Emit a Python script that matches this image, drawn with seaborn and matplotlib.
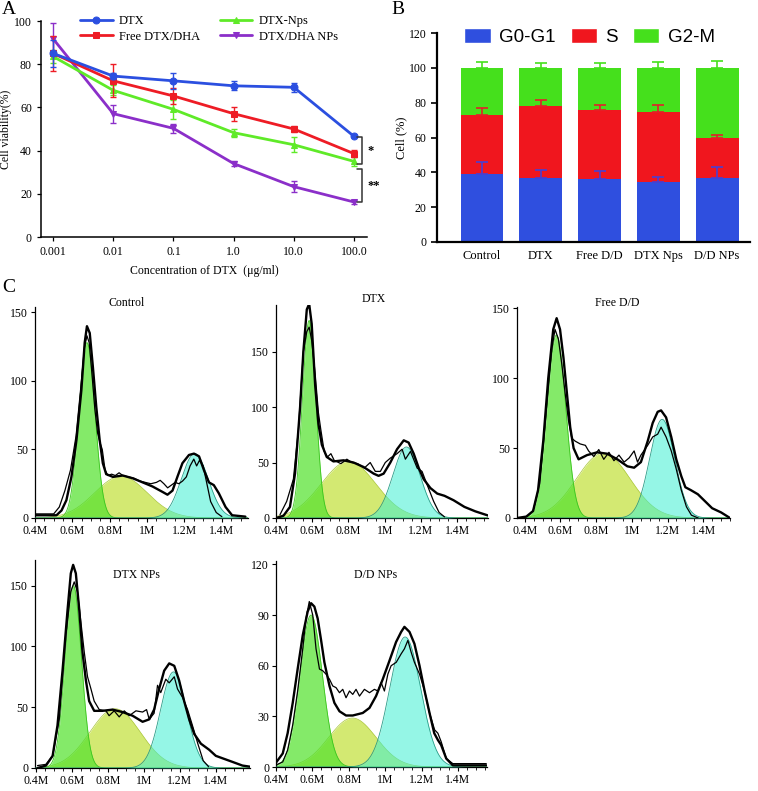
import numpy as np
import pandas as pd
import matplotlib
matplotlib.use("Agg")
import matplotlib.pyplot as plt
import matplotlib.patches as mpatches
from matplotlib.transforms import blended_transform_factory
import seaborn as sns

# ---------------- Panel A data ----------------
conc = [0.001, 0.01, 0.1, 1.0, 10.0, 100.0]
conc_labels = ["0.001", "0.01", "0.1", "1.0", "10.0", "100.0"]
via_dtx = [85, 74.5, 72.3, 70, 69.3, 46.6]
err_dtx = [6.3, 1.5, 3.6, 2, 2, 0.5]
via_free = [85, 72.3, 65.3, 57.1, 50, 38.6]
err_free = [8, 7.6, 3.9, 3.2, 1.5, 1.5]
via_nps = [83.6, 67.9, 59.1, 48.3, 42.7, 35]
err_nps = [3, 2.3, 4.5, 1.8, 3.5, 2]
via_dd = [91.8, 57.1, 50.3, 34, 23.3, 16.2]
err_dd = [7.5, 4.2, 2.1, 1, 2.4, 1]
sig_brackets = [(46.4, 33.6, "*"), (31.3, 16.2, "**")]

# ---------------- Panel B data ----------------
groups = ["Control", "DTX", "Free D/D", "DTX Nps", "D/D NPs"]
g0g1 = [38.9, 36.7, 36.0, 34.3, 37.0]
s_phase = [33.8, 41.2, 39.6, 40.3, 22.9]
g2m = [27.3, 22.1, 24.4, 25.4, 40.1]
err_g0 = [7.0, 4.8, 4.8, 3.0, 6.0]
err_s = [4.3, 3.8, 3.3, 3.9, 1.7]
err_g2 = [3.5, 2.8, 2.8, 3.5, 4.2]

# ---------------- Panel C data (x in millions) ----------------
# components: G1, S, G2 -> centre, height, width
ctrl_c = [0.678, 0.86, 1.255]; ctrl_h = [128, 30.5, 47]; ctrl_w = [0.043, 0.14, 0.072]
ctrl_sx = [0.40, 0.515, 0.542, 0.568, 0.595, 0.622, 0.648, 0.666, 0.678, 0.693, 0.71, 0.728, 0.746, 0.763, 0.781,
           0.817, 0.87, 0.923, 0.976, 1.029, 1.083, 1.109, 1.136, 1.162, 1.189, 1.224, 1.251, 1.278, 1.304, 1.331,
           1.357, 1.384, 1.42, 1.455, 1.526]
ctrl_sy = [2, 2, 5.5, 13, 30, 57, 93, 128, 140, 135, 110, 81, 57, 40, 32,
           30, 31, 29, 26, 23, 19, 17, 20, 30, 40, 46, 47, 45, 35, 26,
           24, 18, 8, 2, 1]
ctrl_rx = [0.40, 0.50, 0.53, 0.56, 0.59, 0.62, 0.645, 0.665, 0.678, 0.69, 0.705, 0.72, 0.735, 0.748, 0.76, 0.775,
           0.79, 0.81, 0.83, 0.85, 0.87, 0.90, 0.93, 0.96, 0.99, 1.02, 1.05, 1.07, 1.09, 1.11, 1.13, 1.15, 1.17,
           1.19, 1.21, 1.23, 1.25, 1.265, 1.28, 1.30, 1.32, 1.34, 1.37, 1.40]
ctrl_ry = [3, 3, 8, 20, 35, 60, 95, 125, 133, 128, 105, 80, 62, 55, 50, 35,
           31, 32, 31, 33, 31, 30, 29, 27, 26, 25, 26, 27.5, 25, 22, 24, 26, 25,
           27, 30, 38, 43, 38, 42, 38, 25, 12, 4, 1]

dtx_c = [0.583, 0.80, 1.12]; dtx_h = [178, 51, 64]; dtx_w = [0.037, 0.15, 0.075]
dtx_sx = [0.40, 0.441, 0.477, 0.505, 0.533, 0.551, 0.57, 0.583, 0.597, 0.616, 0.634, 0.653, 0.68, 0.717, 0.773,
          0.828, 0.883, 0.939, 0.966, 0.994, 1.031, 1.068, 1.105, 1.132, 1.16, 1.188, 1.215, 1.252, 1.29, 1.33,
          1.38, 1.44, 1.50, 1.575]
dtx_sy = [0, 2, 10, 40, 100, 150, 188, 193, 175, 120, 85, 66, 55, 51, 52,
          50, 46, 40, 38, 40, 50, 62, 70, 68, 58, 45, 35, 27, 22, 20,
          16, 10, 6, 2]
dtx_rx = [0.422, 0.459, 0.496, 0.524, 0.551, 0.57, 0.583, 0.597, 0.616, 0.634, 0.647, 0.666, 0.684, 0.703, 0.721,
          0.758, 0.791, 0.819, 0.85, 0.887, 0.92, 0.948, 0.976, 1.003, 1.031, 1.068, 1.096, 1.114, 1.142, 1.179,
          1.206, 1.234, 1.27, 1.30, 1.33]
dtx_ry = [3, 15, 35, 80, 150, 168, 172, 160, 130, 95, 80, 60, 55, 58, 52,
          49, 53, 50, 49, 45, 50, 42, 42, 50, 54, 58, 62, 53, 60, 45,
          42, 30, 15, 5, 1]

free_c = [0.578, 0.84, 1.17]; free_h = [131, 46.4, 70.6]; free_w = [0.052, 0.15, 0.07]
free_sx = [0.357, 0.409, 0.447, 0.475, 0.504, 0.532, 0.56, 0.579, 0.598, 0.617, 0.636, 0.655, 0.674, 0.702, 0.749,
           0.806, 0.862, 0.919, 0.975, 1.013, 1.051, 1.089, 1.117, 1.145, 1.164, 1.192, 1.221, 1.249, 1.277, 1.30,
           1.33, 1.37, 1.41, 1.45, 1.50, 1.55]
free_sy = [0, 1, 5, 20, 55, 100, 135, 143, 135, 115, 90, 65, 50, 42, 45,
           47, 46, 42, 37, 36, 40, 55, 68, 76, 77, 72, 58, 42, 30, 22,
           20, 17, 12, 7, 4, 0]
free_rx = [0.447, 0.485, 0.523, 0.551, 0.57, 0.589, 0.608, 0.626, 0.645, 0.664, 0.683, 0.711, 0.74, 0.758, 0.787,
           0.815, 0.843, 0.872, 0.90, 0.928, 0.957, 0.985, 1.013, 1.032, 1.051, 1.089, 1.117, 1.145, 1.164, 1.192,
           1.221, 1.249, 1.277, 1.306, 1.334, 1.372]
free_ry = [5, 25, 80, 120, 135, 128, 110, 90, 70, 57, 55, 53, 52, 48, 44,
           49, 42, 47, 41, 45, 40, 43, 48, 40, 45, 52, 58, 60, 65, 58,
           48, 35, 20, 8, 2, 0]

nps_c = [0.608, 0.84, 1.165]; nps_h = [150, 48.7, 79]; nps_w = [0.045, 0.14, 0.072]
nps_sx = [0.409, 0.456, 0.493, 0.52, 0.548, 0.576, 0.594, 0.607, 0.622, 0.641, 0.659, 0.678, 0.696, 0.724, 0.77,
          0.826, 0.881, 0.937, 0.993, 1.03, 1.057, 1.085, 1.113, 1.141, 1.169, 1.196, 1.224, 1.252, 1.28, 1.317,
          1.363, 1.40, 1.437, 1.493, 1.548, 1.594]
nps_sy = [0, 2, 10, 35, 80, 130, 160, 167, 160, 130, 95, 72, 55, 47, 47,
          48, 46, 43, 38, 40, 48, 65, 80, 86, 84, 72, 55, 40, 28, 20,
          15, 10, 8, 5, 2, 1]
nps_rx = [0.409, 0.456, 0.493, 0.53, 0.567, 0.594, 0.613, 0.631, 0.65, 0.669, 0.687, 0.706, 0.724, 0.752, 0.789,
          0.807, 0.835, 0.863, 0.891, 0.919, 0.956, 0.993, 1.015, 1.03, 1.057, 1.076, 1.094, 1.122, 1.141, 1.169,
          1.187, 1.215, 1.243, 1.27, 1.30, 1.33, 1.36]
nps_ry = [2, 3, 10, 40, 110, 145, 153, 145, 120, 95, 75, 65, 55, 48, 47,
          43, 47, 42, 47, 43, 47, 46, 48, 40, 45, 68, 62, 73, 70, 75,
          65, 58, 48, 35, 20, 6, 1]

dd_c = [0.593, 0.82, 1.11]; dd_h = [90, 29, 77]; dd_w = [0.062, 0.13, 0.085]
dd_sx = [0.396, 0.437, 0.464, 0.492, 0.519, 0.547, 0.574, 0.593, 0.611, 0.629, 0.648, 0.666, 0.694, 0.721, 0.749,
         0.785, 0.822, 0.877, 0.914, 0.95, 0.987, 1.024, 1.06, 1.088, 1.106, 1.134, 1.161, 1.189, 1.217, 1.244,
         1.27, 1.29, 1.308, 1.336, 1.372, 1.45, 1.556]
dd_sy = [2, 8, 20, 38, 58, 78, 92, 97, 95, 88, 75, 62, 48, 38, 33,
         30.5, 30.5, 32, 35, 42, 52, 63, 74, 80, 83, 80, 73, 60, 45, 32,
         20, 16, 13, 5, 1, 1, 1]
dd_rx = [0.396, 0.437, 0.464, 0.492, 0.519, 0.547, 0.565, 0.583, 0.602, 0.62, 0.639, 0.657, 0.675, 0.694, 0.712,
         0.73, 0.749, 0.767, 0.785, 0.804, 0.822, 0.84, 0.859, 0.886, 0.914, 0.941, 0.96, 0.978, 0.996, 1.015,
         1.033, 1.061, 1.088, 1.106, 1.125, 1.143, 1.161, 1.189, 1.217, 1.244, 1.272, 1.29, 1.308, 1.336, 1.372,
         1.556]
dd_ry = [1, 3, 10, 25, 45, 70, 88, 98, 90, 70, 58, 57, 55, 52, 48,
         47, 44, 46, 41, 45, 43, 46, 42, 46, 44, 46, 45, 50, 45, 55,
         60, 62, 67, 70, 75, 68, 62, 55, 45, 32, 22, 20, 15, 5, 2,
         2]

# ---------------- Figure ----------------
sns.set_theme(style="ticks")
plt.rcParams["font.family"] = ["Liberation Serif", "DejaVu Serif"]
plt.rcParams["axes.edgecolor"] = "black"
plt.rcParams["xtick.color"] = "black"
plt.rcParams["ytick.color"] = "black"
plt.rcParams["text.color"] = "black"
plt.rcParams["axes.labelcolor"] = "black"

W, H = 758, 791
fig = plt.figure(figsize=(W / 100, H / 100), dpi=100)


def add_ax(l, t, r, b):
    return fig.add_axes([l / W, 1 - b / H, (r - l) / W, (b - t) / H])


# ---------------- Panel A ----------------
axA = add_ax(41, 21, 367, 237)
seriesA = [("DTX", via_dtx, err_dtx, "#2b4fe0", "o"),
           ("Free DTX/DHA", via_free, err_free, "#ee1c25", "s"),
           ("DTX-Nps", via_nps, err_nps, "#5fea28", "^"),
           ("DTX/DHA NPs", via_dd, err_dd, "#8b2fc9", "v")]
for name, v, e, c, m in reversed(seriesA):
    axA.errorbar(conc, v, yerr=e, fmt="none", ecolor=c, elinewidth=1.0, capsize=2.5, capthick=1.0)
    sns.lineplot(x=conc, y=v, ax=axA, color=c, marker=m, markersize=5, markeredgecolor=c,
                 linewidth=2.0, label=name, estimator=None)
axA.set_xscale("log")
axA.set_xlim(10 ** -3.2, 10 ** 2.216)
axA.set_ylim(0, 100)
axA.set_xticks(conc)
axA.set_xticklabels(conc_labels)
axA.xaxis.set_minor_locator(matplotlib.ticker.NullLocator())
axA.set_yticks([0, 20, 40, 60, 80, 100])
axA.tick_params(labelsize=8.5, length=3, width=0.9)
for sp in ["top", "right"]:
    axA.spines[sp].set_visible(False)
for sp in ["left", "bottom"]:
    axA.spines[sp].set_linewidth(1.1)
axA.set_ylabel("Cell viability(%)", fontsize=8.5)
axA.yaxis.set_label_coords(-0.088, 0.5)
axA.set_xlabel("Concentration of DTX  (\u03bcg/ml)", fontsize=8.5, labelpad=5)
h, l = axA.get_legend_handles_labels()
order = [l.index(s[0]) for s in seriesA]
axA.legend([h[i] for i in order], [l[i] for i in order], ncol=2, frameon=False, fontsize=9,
           loc="upper left", bbox_to_anchor=(80 / W, 1 - 15 / H), bbox_transform=fig.transFigure,
           borderpad=0, borderaxespad=0, handlelength=2.6, handletextpad=0.5, columnspacing=1.6,
           labelspacing=0.3)
trA = blended_transform_factory(axA.transAxes, axA.transData)
for top, bot, star in sig_brackets:
    axA.plot([0.969, 0.985, 0.985, 0.969], [top, top, bot, bot], color="#333333", lw=1.1,
             transform=trA, clip_on=False)
    axA.text(1.003, (top + bot) / 2, star, transform=trA, fontsize=9, fontweight="bold",
             ha="left", va="center")

# ---------------- Panel B ----------------
axB = add_ax(437, 33, 750, 242)
c_blue, c_red, c_green = "#2f4fdf", "#f0161e", "#45e01c"
cum_s = [a + b for a, b in zip(g0g1, s_phase)]
cum_all = [a + b for a, b in zip(cum_s, g2m)]
xs = np.arange(len(groups))
axB.errorbar(xs, cum_all, yerr=[np.zeros(len(xs)), err_g2], fmt="none", ecolor=c_green,
             elinewidth=1.2, capsize=4, capthick=1.2)
sns.barplot(x=groups, y=cum_all, color=c_green, saturation=1, width=0.73, ax=axB)
axB.errorbar(xs, cum_s, yerr=[np.zeros(len(xs)), err_s], fmt="none", ecolor="#e3202a",
             elinewidth=1.2, capsize=4, capthick=1.2, zorder=5)
sns.barplot(x=groups, y=cum_s, color=c_red, saturation=1, width=0.73, ax=axB)
axB.errorbar(xs, g0g1, yerr=[np.zeros(len(xs)), err_g0], fmt="none", ecolor="#4a3fd0",
             elinewidth=1.2, capsize=4, capthick=1.2, zorder=5)
sns.barplot(x=groups, y=g0g1, color=c_blue, saturation=1, width=0.73, ax=axB)
for p in axB.patches:
    p.set_edgecolor("none")
axB.set_xlim(-0.766, 4.56)
axB.set_ylim(0, 120)
axB.set_yticks([0, 20, 40, 60, 80, 100, 120])
axB.tick_params(axis="y", labelsize=8.5, length=4, width=1.2)
axB.tick_params(axis="x", labelsize=9, length=0, pad=6)
for sp in ["top", "right"]:
    axB.spines[sp].set_visible(False)
for sp in ["left", "bottom"]:
    axB.spines[sp].set_linewidth(1.6)
axB.set_ylabel("Cell (%)", fontsize=9)
axB.yaxis.set_label_coords(-0.096, 0.5)
axB.set_xlabel("")
legB = [mpatches.Patch(facecolor=c_blue, label="G0-G1"),
        mpatches.Patch(facecolor=c_red, label="S"),
        mpatches.Patch(facecolor=c_green, label="G2-M")]
fig.legend(handles=legB, ncol=3, frameon=False, loc="center left",
           bbox_to_anchor=(455 / W, 1 - 37 / H), bbox_transform=fig.transFigure,
           prop={"family": ["Liberation Sans", "DejaVu Sans"], "size": 13.5},
           borderpad=0, handlelength=1.4, handleheight=0.8, handletextpad=0.45, columnspacing=0.8)

# ---------------- Panel C ----------------
col_g1, col_s, col_g2 = "#55e22f", "#c9e44f", "#3ff0d2"
panels = [
    ("Control", ctrl_c, ctrl_h, ctrl_w, ctrl_sx, ctrl_sy, ctrl_rx, ctrl_ry, (0.40, 1.54), 154,
     [0, 50, 100, 150], (35, 307, 248, 518), (0.43, 1.02)),
    ("DTX", dtx_c, dtx_h, dtx_w, dtx_sx, dtx_sy, dtx_rx, dtx_ry, (0.40, 1.57), 192,
     [0, 50, 100, 150], (276, 305, 488, 518), (0.46, 1.03)),
    ("Free D/D", free_c, free_h, free_w, free_sx, free_sy, free_rx, free_ry, (0.357, 1.55), 151,
     [0, 50, 100, 150], (517, 307, 730, 518), (0.47, 1.02)),
    ("DTX NPs", nps_c, nps_h, nps_w, nps_sx, nps_sy, nps_rx, nps_ry, (0.395, 1.59), 171,
     [0, 50, 100, 150], (35, 560, 250, 768), (0.474, 0.93)),
    ("D/D NPs", dd_c, dd_h, dd_w, dd_sx, dd_sy, dd_rx, dd_ry, (0.40, 1.56), 122,
     [0, 30, 60, 90, 120], (276, 561, 487, 767), (0.47, 0.93)),
]
xtick_vals = [0.4, 0.6, 0.8, 1.0, 1.2, 1.4]
xtick_labs = ["0.4M", "0.6M", "0.8M", "1M", "1.2M", "1.4M"]
for (title, cc, hh, ww, sx, sy, rx, ry, xl, ytop, yt, rect, tpos) in panels:
    ax = add_ax(*rect)
    grid = np.linspace(xl[0], xl[1], 600)
    comps = [hh[i] * np.exp(-0.5 * ((grid - cc[i]) / ww[i]) ** 2) for i in range(3)]
    ax.fill_between(grid, 0, comps[1], color=col_s, alpha=0.8, lw=0, zorder=1)
    ax.plot(grid, comps[1], color="#a9c63a", lw=0.5, zorder=1.1)
    ax.fill_between(grid, 0, comps[0], color=col_g1, alpha=0.72, lw=0, zorder=2)
    ax.plot(grid, comps[0], color="#3cc420", lw=0.6, zorder=2.1)
    ax.fill_between(grid, 0, comps[2], color=col_g2, alpha=0.55, lw=0, zorder=3)
    ax.plot(grid, comps[2], color="#2a9d88", lw=0.6, zorder=3.1)
    sns.lineplot(x=rx, y=ry, ax=ax, color="black", linewidth=0.9, estimator=None, zorder=4)
    sns.lineplot(x=sx, y=sy, ax=ax, color="black", linewidth=1.7, estimator=None, zorder=5)
    ax.set_xlim(*xl)
    ax.set_ylim(0, ytop)
    ax.set_xticks(xtick_vals)
    ax.set_xticklabels(xtick_labs)
    ax.xaxis.set_minor_locator(matplotlib.ticker.MultipleLocator(0.05))
    ax.set_yticks(yt)
    ax.tick_params(axis="both", which="major", labelsize=8.5, length=3, width=0.8, pad=2)
    ax.tick_params(axis="x", which="minor", length=1.8, width=0.6)
    for sp in ["top", "right"]:
        ax.spines[sp].set_visible(False)
    for sp in ["left", "bottom"]:
        ax.spines[sp].set_linewidth(0.9)
    ax.set_xlabel("")
    ax.set_ylabel("")
    ax.text(tpos[0], tpos[1], title, transform=ax.transAxes, fontsize=8.5, ha="center", va="center")

# panel letters
fig.text(2 / W, 1 - 10 / H, "A", fontsize=14, ha="left", va="center")
fig.text(391 / W, 1 - 10 / H, "B", fontsize=14, ha="left", va="center")
fig.text(2 / W, 1 - 287 / H, "C", fontsize=14, ha="left", va="center")

fig.savefig("out.png", dpi=100)
